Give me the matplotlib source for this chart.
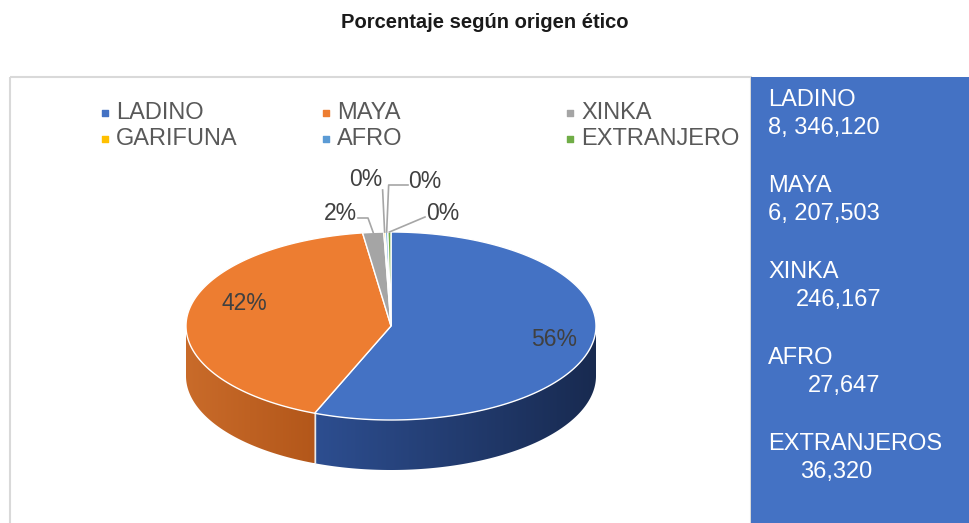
import numpy as np
import matplotlib.pyplot as plt
from matplotlib.patches import Polygon, Rectangle
from matplotlib.colors import to_rgb

plt.rcParams["font.family"] = ["Liberation Sans", "DejaVu Sans"]

# ---- data -----------------------------------------------------------------
categories = ["LADINO", "MAYA", "XINKA", "GARIFUNA", "AFRO", "EXTRANJERO"]
population = [8346120, 6207503, 246167, 19529, 27647, 36320]   # garifuna estimated (0%)
panel_names = ["LADINO", "MAYA", "XINKA", "AFRO", "EXTRANJEROS"]
panel_values = ["8, 346,120", "6, 207,503", "246,167", "27,647", "36,320"]
title = "Porcentaje según origen ético"

# ---- style ----------------------------------------------------------------
top_colors = ["#4472C4", "#ED7D31", "#A5A5A5", "#FFC000", "#5B9BD5", "#70AD47"]
side_colors = [("#2d4e90", "#182a50"), ("#c96b2a", "#b3571a"),
               ("#8a8a8a", "#7a7a7a"), ("#d9a300", "#c99500"),
               ("#3f7fbf", "#356fa8"), ("#5a923a", "#4d8031")]
cx, cy, ra, rb, depth = 391, 326, 205, 94, 50


def rim(theta_deg, dy=0.0):
    t = np.radians(theta_deg)
    return np.column_stack([cx + ra * np.sin(t), cy - rb * np.cos(t) + dy])


fig = plt.figure(figsize=(9.7, 5.23), dpi=100)
ax = fig.add_axes([0, 0, 1, 1])

ax.text(485, 23, title, ha="center", va="center", fontsize=14.5,
        fontweight="bold", color="#1a1a1a")

# chart frame + info panel
ax.add_patch(Rectangle((10.5, 76.5), 741, 460, fill=False, ec="#d9d9d9", lw=1.5))
ax.add_patch(Rectangle((751, 77), 222, 450, fc="#4472C4", ec="none"))

vals = np.array(population, dtype=float)
frac = vals / vals.sum()
edges = np.concatenate([[0], np.cumsum(frac) * 360])

# sides (front half: 90..270 deg clockwise from top), shaded left -> right
for i in range(len(vals)):
    t1, t2 = max(edges[i], 90), min(edges[i + 1], 270)
    if t2 <= t1:
        continue
    seg = np.linspace(t1, t2, 200)
    pts = np.vstack([rim(seg), rim(seg[::-1], depth)])
    poly = Polygon(pts, closed=True, fc="none", ec="none")
    ax.add_patch(poly)
    x0, x1 = pts[:, 0].min(), pts[:, 0].max()
    y0, y1 = pts[:, 1].min(), pts[:, 1].max()
    w = np.linspace(0, 1, 256)[:, None]
    grad = (np.array(to_rgb(side_colors[i][0])) * (1 - w)
            + np.array(to_rgb(side_colors[i][1])) * w)[None, :, :]
    im = ax.imshow(grad, extent=(x0, x1, y1, y0), aspect="auto",
                   interpolation="bilinear", zorder=1)
    im.set_clip_path(poly)

# seam on the side between slices
for e in edges[1:-1]:
    if 90 < e < 270:
        p = np.vstack([rim([e]), rim([e], depth)])
        ax.plot(p[:, 0], p[:, 1], color="#e8e8e8", lw=1.0, zorder=2)

# top faces
for i in range(len(vals)):
    seg = np.linspace(edges[i], edges[i + 1], max(3, int((edges[i + 1] - edges[i]) * 2)))
    pts = np.vstack([[cx, cy], rim(seg)])
    ax.add_patch(Polygon(pts, closed=True, fc=top_colors[i], ec="white", lw=1.0, zorder=3))

# data labels
pct = np.round(frac * 100).astype(int)
nudge = [(2, -1), (16, -13)]
for i in range(2):
    mid = (edges[i] + edges[i + 1]) / 2
    x, y = rim(mid)[0]
    lx = cx + 0.8 * (x - cx) + nudge[i][0]
    ly = cy + 0.8 * (y - cy) + nudge[i][1]
    ax.text(lx, ly, f"{pct[i]}%", ha="center", va="center", fontsize=16.5,
            color="#404040", zorder=4)

small_pos = {2: (340, 213), 3: (366, 180), 4: (425, 181), 5: (443, 213)}
for i, (lx, ly) in small_pos.items():
    mid = (edges[i] + edges[i + 1]) / 2
    ax_, ay_ = rim(mid)[0]
    ax.text(lx, ly, f"{pct[i]}%", ha="center", va="center", fontsize=16.5,
            color="#404040", zorder=4)
    if i == 2:
        line = [(lx + 18, ly + 5), (368, ly + 5), (ax_, ay_)]
    elif i == 3:
        line = [(ax_ - 2, 190), (ax_, ay_)]
    elif i == 4:
        line = [(lx - 17, ly + 4), (ax_ + 2, ly + 4), (ax_, ay_)]
    else:
        line = [(lx - 18, ly + 4), (ax_, ay_)]
    xs, ys = zip(*line)
    ax.plot(xs, ys, color="#a6a6a6", lw=1.2, zorder=4)

# legend
leg_x = [105, 326, 570]
leg_y = [113, 139]
for i, name in enumerate(categories):
    r, c = divmod(i, 3)
    ax.scatter([leg_x[c]], [leg_y[r]], marker="s", s=20, color=top_colors[i], zorder=3)
    ax.text(leg_x[c] + 11, leg_y[r], name, ha="left", va="center",
            fontsize=17, color="#595959")

# info panel text
val_x = [768, 768, 796, 808, 800]
for k, (name, v) in enumerate(zip(panel_names, panel_values)):
    y0 = 100 + 86 * k
    ax.text(768, y0, name, ha="left", va="center", fontsize=17, color="white")
    ax.text(val_x[k], y0 + 28, v, ha="left", va="center", fontsize=17, color="white")

ax.set_xlim(0, 970)
ax.set_ylim(523, 0)
ax.axis("off")

fig.savefig("out.png", dpi=100)
